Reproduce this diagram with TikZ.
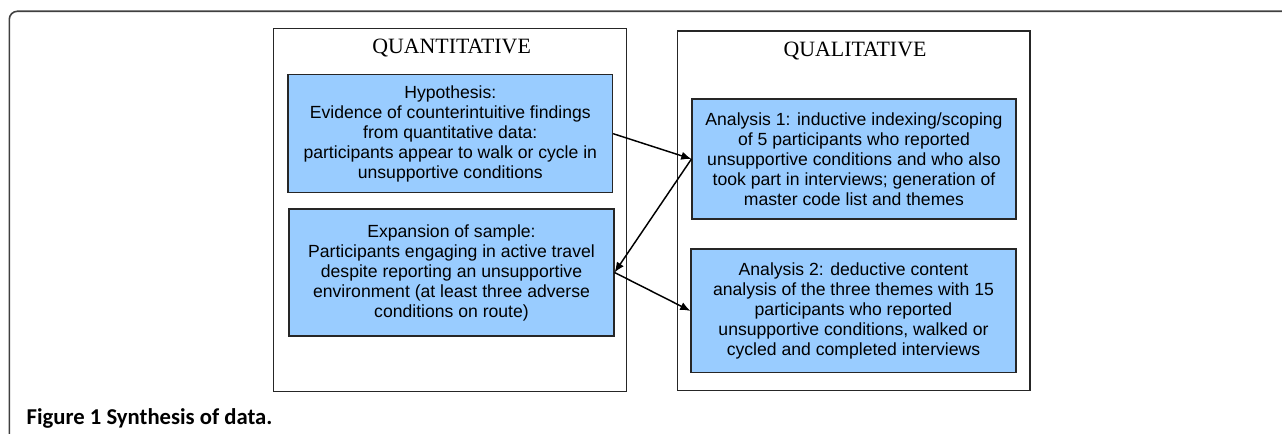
\documentclass[tikz,border=0pt]{standalone}
\usepackage{fontspec}
\setmainfont{Liberation Serif}
\setsansfont{Liberation Sans}
\newfontfamily\capfont{Carlito}
\usetikzlibrary{arrows.meta}
\definecolor{boxblue}{HTML}{99CCFF}
\tikzstyle{panel}=[draw=black!85, line width=0.8pt]
\tikzstyle{title}=[font=\fontsize{16.4}{19}\selectfont]
\tikzstyle{stage}=[draw=black!85, fill=boxblue, line width=0.8pt, align=center, inner sep=0pt, font=\sffamily\fontsize{13.2}{15}\selectfont]
\tikzstyle{arrow}=[draw=black, line width=1.1pt, >={Latex[length=2.7mm, width=2.2mm]}]

\begin{document}
\begin{tikzpicture}[x=0.75pt, y=-0.75pt]
		   \useasboundingbox (0,0) rectangle (1282,434);
		   \draw[draw=black!75, line width=1.2pt, rounded corners=6pt] (9.3,440) -- (9.3,11.3) -- (1290,11.3);
		   \begin{scope}
			   \node (quant) at (449.9,210) [panel, minimum width=264.2pt, minimum height=272.5pt] {};
			   \node (qual) at (853.5,210.9) [panel, minimum width=264.7pt, minimum height=269.8pt] {};
			   \node (quanttitle) at (451.6,48) [title] {QUANTITATIVE};
			   \node (qualtitle) at (855,51) [title] {QUALITATIVE};
			   \node (hyp) at (450.3,133.7) [stage, minimum width=243.5pt, minimum height=88.5pt] {
				   Hypothesis:\\
				   Evidence of counterintuitive findings\\
				   from quantitative data:\\
				   participants appear to walk or cycle in\\
				   unsupportive conditions
			   };
			   \node (exp) at (451.5,272.5) [stage, minimum width=243.75pt, minimum height=95.25pt] {
				   Expansion of sample:\\
				   Participants engaging in active travel\\
				   despite reporting an unsupportive\\
				   environment (at least three adverse\\
				   conditions on route)
			   };
			   \node (ana1) at (854,159) [stage, minimum width=243pt, minimum height=90pt] {
				   Analysis 1: inductive indexing/scoping\\
				   of 5 participants who reported\\
				   unsupportive conditions and who also\\
				   took part in interviews; generation of\\
				   master code list and themes
			   };
			   \node (ana2) at (853.5,310.9) [stage, minimum width=243.75pt, minimum height=92.8pt] {
				   Analysis 2: deductive content\\
				   analysis of the three themes with 15\\
				   participants who reported\\
				   unsupportive conditions, walked or\\
				   cycled and completed interviews
			   };
			   \node (caption) at (22,418) [anchor=west, font=\capfont\bfseries\fontsize{17}{20}\selectfont] {Figure 1 Synthesis of data.};
		   \end{scope}
		   \begin{scope}
			   \draw [arrow, ->] (hyp.east) -- (ana1.west);
			   \draw [arrow, ->] (ana1.west) -- (exp.east);
			   \draw [arrow, ->] (exp.east) -- (ana2.west);
		   \end{scope}
	   \end{tikzpicture}
\end{document}
